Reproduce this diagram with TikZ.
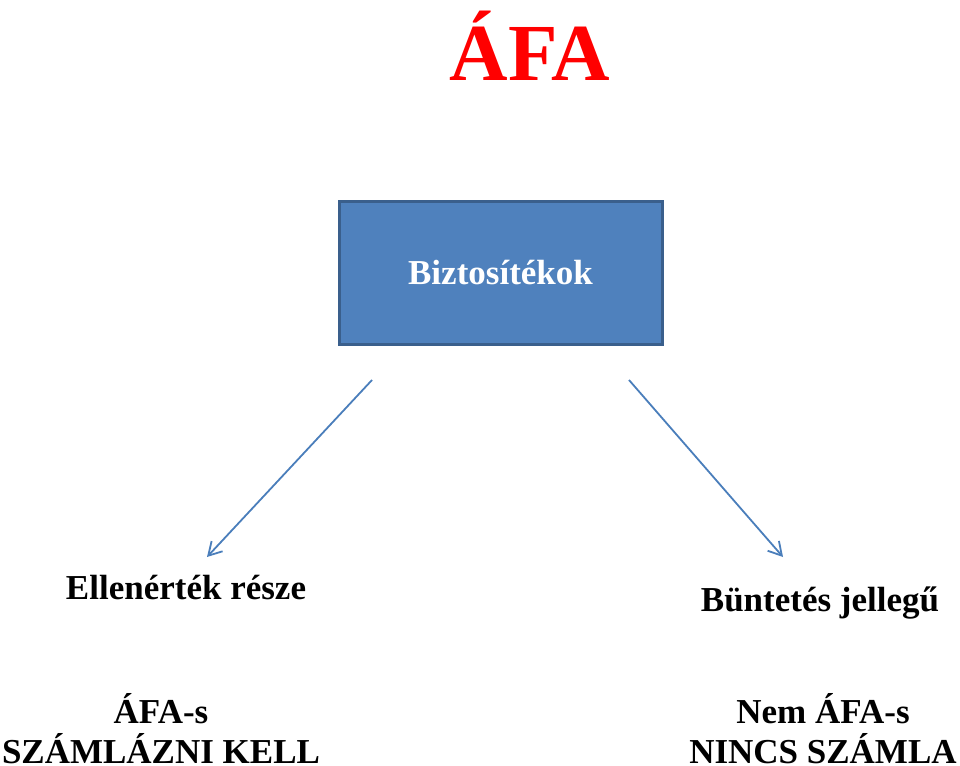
\documentclass[tikz,border=0pt]{standalone}
\usepackage{fontspec}
\setmainfont{Liberation Serif}
\usetikzlibrary{arrows.meta}
\definecolor{boxfill}{HTML}{4F81BD}
\definecolor{boxline}{HTML}{3A5F8C}
\definecolor{arrowcol}{HTML}{4A7EBB}
\definecolor{titlered}{HTML}{FF0000}
\begin{document}
\begin{tikzpicture}[x=1pt,y=-1pt,
  lbl/.style={font=\bfseries\fontsize{35}{40}\selectfont, inner sep=0pt, anchor=base, align=center},
  conn/.style={draw=arrowcol, line width=1.8pt, -{Straight Barb[length=13pt,width=15pt,line width=1.8pt]}}]
\useasboundingbox (0,0) rectangle (960,765);
\node[font=\bfseries\fontsize{81}{90}\selectfont, text=titlered, inner sep=0pt, anchor=base] (title) at (530,81) {ÁFA};
\node[draw=boxline, fill=boxfill, line width=3pt, minimum width=323pt, minimum height=143pt, inner sep=0pt,
      text=white, font=\bfseries\fontsize{35}{40}\selectfont] (box) at (500.5,272.5) {\raisebox{-3pt}{Biztosítékok}};
\node[lbl] (left) at (186,599) {Ellenérték része};
\node[lbl] (right) at (820,611) {Büntetés jellegű};
\node[lbl] (bl) at (161,763) {ÁFA-s\\SZÁMLÁZNI KELL};
\node[lbl] (br) at (823,763) {Nem ÁFA-s\\NINCS SZÁMLA};
\coordinate (ls) at (372,380);
\coordinate (le) at (207,557);
\coordinate (rs) at (629,380);
\coordinate (re) at (783,557);
\draw[conn] (ls) -- (le);
\draw[conn] (rs) -- (re);
\end{tikzpicture}
\end{document}
